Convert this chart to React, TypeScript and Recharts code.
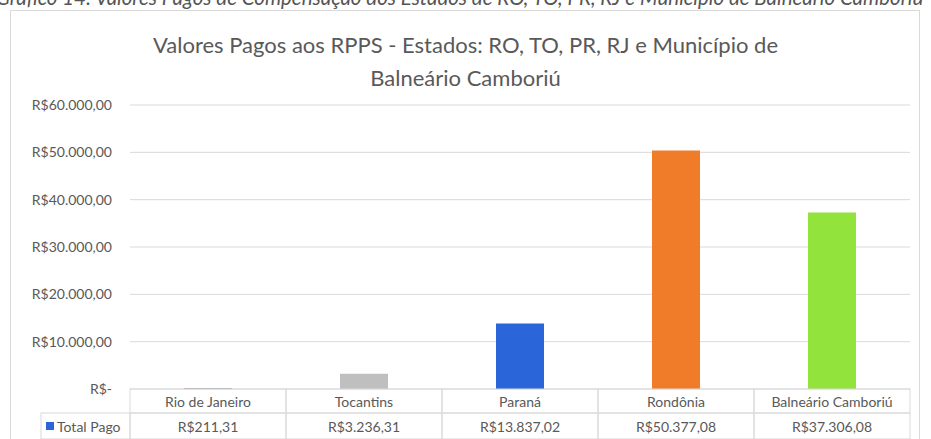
import React from "react";
import { BarChart, Bar, XAxis, YAxis, CartesianGrid, Cell } from "recharts";

const categories = ["Rio de Janeiro", "Tocantins", "Paraná", "Rondônia", "Balneário Camboriú"];
const totalPago = [211.31, 3236.31, 13837.02, 50377.08, 37306.08];
const barColors = ["#A5A5A5", "#BFBFBF", "#2A66D9", "#F07C2A", "#92E33C"];
const yTicks = [0, 10000, 20000, 30000, 40000, 50000, 60000];
const seriesName = "Total Pago";
const titleLines = ["Valores Pagos aos RPPS - Estados: RO, TO, PR, RJ e Município de", "Balneário Camboriú"];
const caption = "Gráfico 14: Valores Pagos de Compensação dos Estados de RO, TO, PR, RJ e Município de Balneário Camboriú";

const data = categories.map((c, i) => ({ name: c, value: totalPago[i], color: barColors[i] }));

const FONT = "Lato, 'Noto Sans', sans-serif";
const TEXT = "#595959";
const GRID = "#D9D9D9";

function brl(v: number): string {
  if (v === 0) return "R$-";
  const fixed = v.toFixed(2);
  const [int, dec] = fixed.split(".");
  const withDots = int.replace(/\B(?=(\d{3})+(?!\d))/g, ".");
  return "R$" + withDots + "," + dec;
}

const TableTick = (props: any) => {
  const { x, y, payload, index, width } = props;
  const n = categories.length;
  const colW = (width || 780) / n;
  const half = colW / 2;
  const rowH = 24;
  const val = totalPago[index];
  const legendW = 89;
  return (
    <g>
      <rect x={x - half} y={y} width={colW} height={rowH} fill="none" stroke={GRID} />
      <rect x={x - half} y={y + rowH} width={colW} height={rowH + 2} fill="none" stroke={GRID} />
      <text x={x} y={y + rowH / 2} textAnchor="middle" dominantBaseline="central" fontFamily={FONT} fontSize={14} fill={TEXT}>
        {payload.value}
      </text>
      <text x={x} y={y + rowH * 1.5 + 1} textAnchor="middle" dominantBaseline="central" fontFamily={FONT} fontSize={14} fill={TEXT}>
        {brl(val)}
      </text>
      {index === 0 && (
        <g>
          <rect x={x - half - legendW} y={y + rowH} width={legendW} height={rowH + 2} fill="none" stroke={GRID} />
          <rect x={x - half - legendW + 5} y={y + rowH * 1.5 - 3} width={8} height={8} fill="#2A66D9" />
          <text x={x - half - legendW + 16} y={y + rowH * 1.5 + 1} dominantBaseline="central" fontFamily={FONT} fontSize={14} fill={TEXT}>
            {seriesName}
          </text>
        </g>
      )}
    </g>
  );
};

export default function App() {
  return (
    <div style={{ position: "absolute", left: 0, top: 0, width: 931, height: 439, overflow: "hidden", background: "#fff" }}>
      <div
        style={{
          position: "absolute",
          left: -4,
          top: -14,
          whiteSpace: "nowrap",
          fontFamily: FONT,
          fontStyle: "italic",
          fontSize: 20.5,
          lineHeight: "22px",
          color: "#555555",
        }}
      >
        {caption}
      </div>
      <div style={{ position: "absolute", left: 10, top: 10, width: 910, height: 450, border: "1px solid #D9D9D9", boxSizing: "border-box" }} />
      <div style={{ position: "absolute", left: 0, top: 28, width: 931, textAlign: "center", fontFamily: FONT, fontSize: 22, color: TEXT, lineHeight: "33px" }}>
        {titleLines.map((t) => (
          <div key={t}>{t}</div>
        ))}
      </div>
      <div style={{ position: "absolute", left: 0, top: 0 }}>
        <BarChart width={931} height={439} data={data} margin={{ top: 105, right: 21, bottom: 0, left: 0 }} barSize={48}>
          <CartesianGrid vertical={false} stroke={GRID} />
          <YAxis
            width={130}
            domain={[0, 60000]}
            ticks={yTicks}
            axisLine={false}
            tickLine={false}
            tickSize={0}
            tickMargin={18}
            tickFormatter={brl}
            tick={{ fontFamily: FONT, fontSize: 14, fill: TEXT }}
          />
          <XAxis dataKey="name" height={50} axisLine={false} tickLine={false} tickSize={0} tickMargin={0} interval={0} tick={<TableTick />} />
          <Bar dataKey="value" isAnimationActive={false}>
            {data.map((d) => (
              <Cell key={d.name} fill={d.color} />
            ))}
          </Bar>
        </BarChart>
      </div>
    </div>
  );
}
